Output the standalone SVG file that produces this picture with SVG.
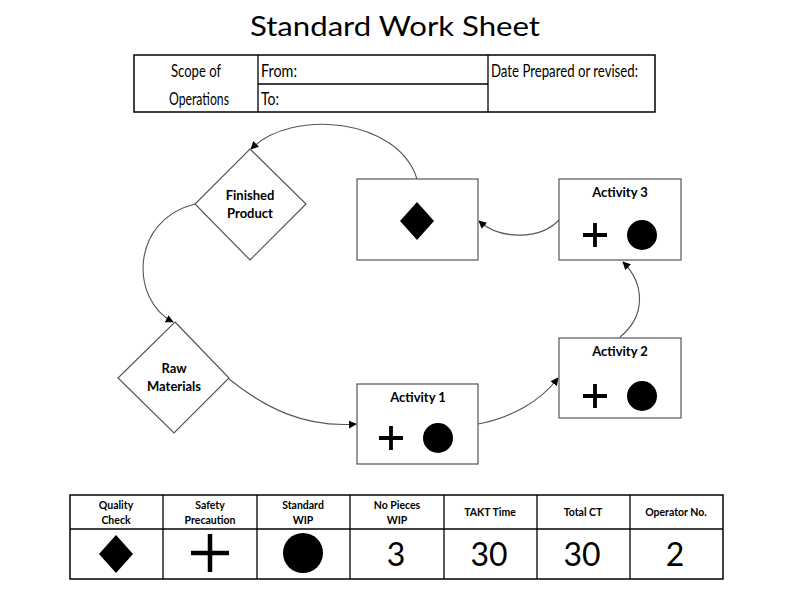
<svg xmlns="http://www.w3.org/2000/svg" width="790" height="591" viewBox="0 0 790 591">
<defs>
<style>
text{font-family:Lato,"Open Sans","Liberation Sans",sans-serif;fill:#000}
.title{font-size:27px}
.hd{font-size:18px}
.lbl{font-size:13px;font-weight:bold;text-anchor:middle}
.th{font-size:10.5px;font-weight:bold;text-anchor:middle}
.num{font-size:32px;text-anchor:middle}
.tbl{fill:#fff;stroke:#000;stroke-width:1.5}
.ln{stroke:#000;stroke-width:1.3;fill:none}
.node{fill:#fff;stroke:#555;stroke-width:1.2}
.conn{fill:none;stroke:#555;stroke-width:1.1}
.blk{fill:#000}
.plus{stroke:#000;stroke-width:3.8;fill:none}
</style>
<marker id="ah" viewBox="0 0 10 10" refX="9" refY="5" markerWidth="8" markerHeight="8" markerUnits="userSpaceOnUse" orient="auto">
<path d="M0,0 L10,5 L0,10 z" fill="#000"/>
</marker>
</defs>
<rect width="790" height="591" fill="#fff"/>

<text class="title" x="395" y="36" text-anchor="middle" textLength="290" lengthAdjust="spacingAndGlyphs">Standard Work Sheet</text>

<g id="header">
<rect class="tbl" x="134" y="55" width="521" height="57"/>
<line class="ln" x1="258" y1="55" x2="258" y2="112"/>
<line class="ln" x1="488" y1="55" x2="488" y2="112"/>
<line class="ln" x1="258" y1="84" x2="488" y2="84"/>
<text class="hd" x="196" y="77" text-anchor="middle" textLength="50" lengthAdjust="spacingAndGlyphs">Scope of</text>
<text class="hd" x="199" y="105" text-anchor="middle" textLength="60" lengthAdjust="spacingAndGlyphs">Operations</text>
<text class="hd" x="261" y="77" textLength="36" lengthAdjust="spacingAndGlyphs">From:</text>
<text class="hd" x="261" y="105" textLength="18" lengthAdjust="spacingAndGlyphs">To:</text>
<text class="hd" x="491" y="77" textLength="147" lengthAdjust="spacingAndGlyphs">Date Prepared or revised:</text>
</g>

<g id="connectors">
<path class="conn" marker-end="url(#ah)" d="M229,379 C265,408 305,428 356,424"/>
<path class="conn" marker-end="url(#ah)" d="M478,424 C510,418 540,402 558,378"/>
<path class="conn" marker-end="url(#ah)" d="M620,337 C646,316 645,284 623,262"/>
<path class="conn" marker-end="url(#ah)" d="M559,220 C540,240 500,240 479,221"/>
<path class="conn" marker-end="url(#ah)" d="M417,179 C398,118 292,108 251,149"/>
<path class="conn" marker-end="url(#ah)" d="M195,204 C130,220 130,300 173,322"/>
</g>

<g id="finished-product">
<polygon class="node" points="250,149 306,204 250,260 195,204"/>
<text class="lbl" x="250" y="200">Finished</text>
<text class="lbl" x="250" y="218">Product</text>
</g>

<g id="raw-materials">
<polygon class="node" points="175,322 229,378 174,433 118,378"/>
<text class="lbl" x="174" y="373">Raw</text>
<text class="lbl" x="174" y="391">Materials</text>
</g>

<g id="quality-box">
<rect class="node" x="357" y="179" width="121" height="81"/>
<polygon class="blk" points="417,202 434,221 417,240 400,221"/>
</g>

<g id="activity3">
<rect class="node" x="559" y="179" width="122" height="81"/>
<text class="lbl" x="620" y="197">Activity 3</text>
<path class="plus" d="M583,235 H607 M595,223 V247"/>
<circle class="blk" cx="642" cy="235" r="15"/>
</g>

<g id="activity2">
<rect class="node" x="559" y="338" width="122" height="80"/>
<text class="lbl" x="620" y="356">Activity 2</text>
<path class="plus" d="M583,396 H607 M595,384 V408"/>
<circle class="blk" cx="642" cy="396" r="15"/>
</g>

<g id="activity1">
<rect class="node" x="357" y="384" width="121" height="80"/>
<text class="lbl" x="418" y="402">Activity 1</text>
<path class="plus" d="M379,438 H403 M391,426 V450"/>
<circle class="blk" cx="438" cy="438" r="15"/>
</g>

<g id="legend">
<rect class="tbl" x="70" y="495" width="653" height="84"/>
<line class="ln" x1="70" y1="529" x2="723" y2="529"/>
<line class="ln" x1="163" y1="495" x2="163" y2="579"/>
<line class="ln" x1="257" y1="495" x2="257" y2="579"/>
<line class="ln" x1="350" y1="495" x2="350" y2="579"/>
<line class="ln" x1="444" y1="495" x2="444" y2="579"/>
<line class="ln" x1="537" y1="495" x2="537" y2="579"/>
<line class="ln" x1="630" y1="495" x2="630" y2="579"/>
<text class="th" x="116" y="509">Quality</text>
<text class="th" x="116" y="524">Check</text>
<text class="th" x="210" y="509">Safety</text>
<text class="th" x="210" y="524">Precaution</text>
<text class="th" x="303" y="509">Standard</text>
<text class="th" x="303" y="524">WIP</text>
<text class="th" x="397" y="509">No Pieces</text>
<text class="th" x="397" y="524">WIP</text>
<text class="th" x="490" y="516">TAKT Time</text>
<text class="th" x="583" y="516">Total CT</text>
<text class="th" x="676" y="516">Operator No.</text>
<polygon class="blk" points="116,535 133,554 116,573 99,554"/>
<path class="plus" d="M191,553 H229 M210,534 V572" style="stroke-width:4.5"/>
<ellipse class="blk" cx="303" cy="553" rx="20" ry="20"/>
<text class="num" x="396" y="566">3</text>
<text class="num" x="489" y="566">30</text>
<text class="num" x="582" y="566">30</text>
<text class="num" x="675" y="566">2</text>
</g>
</svg>
